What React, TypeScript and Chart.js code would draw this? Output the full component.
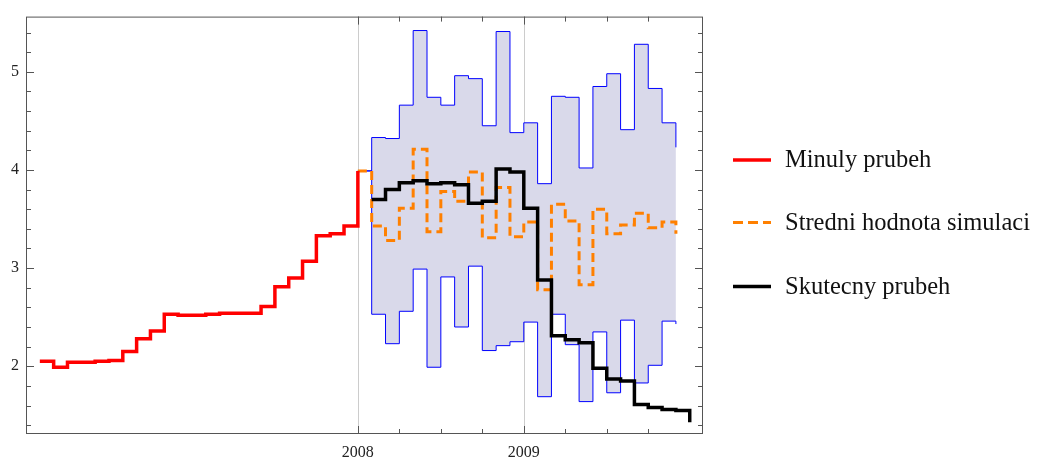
import React, { useEffect, useRef } from "react";
import { Chart, registerables } from "chart.js";

Chart.register(...registerables);

// ---- Data (monthly values, step plot) ----
const pastStart = { year: 2006, month: 2 };
const pastValues = [
  2.05, 1.99, 2.04, 2.04, 2.05, 2.06, 2.15, 2.28, 2.36, 2.53, 2.52, 2.52,
  2.53, 2.54, 2.54, 2.54, 2.61, 2.81, 2.9, 3.07, 3.33, 3.35, 3.43, 3.99,
];

const actualStart = { year: 2008, month: 2 };
const actualValues = [
  3.7, 3.8, 3.87, 3.89, 3.86, 3.87, 3.85, 3.66, 3.68, 4.01, 3.98,
  3.61, 2.88, 2.31, 2.27, 2.24, 1.98, 1.87, 1.85, 1.61, 1.58, 1.56, 1.55,
  1.43,
];

const simStart = { year: 2008, month: 1 };
const meanValues = [
  3.99, 3.43, 3.28, 3.61, 4.21, 3.37, 3.78, 3.68, 3.98, 3.31, 3.82, 3.32,
  3.47, 2.78, 3.65, 3.48, 2.83, 3.6, 3.35, 3.44, 3.56, 3.41, 3.47, 3.35,
];
const upperValues = [
  3.99, 4.33, 4.32, 4.66, 5.42, 4.74, 4.66, 4.96, 4.93, 4.45, 5.41, 4.38,
  4.48, 3.86, 4.75, 4.74, 4.02, 4.85, 4.98, 4.41, 5.28, 4.83, 4.48, 4.23,
];
const lowerValues = [
  3.99, 2.53, 2.23, 2.56, 2.99, 1.99, 2.91, 2.4, 3.02, 2.16, 2.21, 2.25,
  2.45, 1.69, 2.53, 2.22, 1.64, 2.35, 1.73, 2.47, 1.83, 2.01, 2.46, 2.43,
];

const xTickLabels = [2008, 2009];
const xMinorTicks = [2008.25, 2008.5, 2008.75, 2009.25, 2009.5, 2009.75];
const yTickLabels = [2, 3, 4, 5];
const yMinorTicks = [1.4, 1.6, 1.8, 2.2, 2.4, 2.6, 2.8, 3.2, 3.4, 3.6, 3.8, 4.2, 4.4, 4.6, 4.8, 5.2, 5.4];

const legendItems = [
  { label: "Minuly prubeh", color: "#ff0000", dash: [] as number[], width: 3.5 },
  { label: "Stredni hodnota simulaci", color: "#ff8000", dash: [10, 5], width: 3 },
  { label: "Skutecny prubeh", color: "#000000", dash: [] as number[], width: 3.5 },
];

const toPoints = (start: { year: number; month: number }, values: number[]) =>
  values.map((v, i) => ({ x: start.year + (start.month - 1 + i) / 12, y: v }));

const SERIF = '"Liberation Serif", "Times New Roman", serif';

const framePlugin = {
  id: "mmaFrame",
  beforeDraw(chart: any) {
    const { ctx, chartArea: a, scales } = chart;
    ctx.save();
    ctx.strokeStyle = "#cccccc";
    ctx.lineWidth = 1;
    xTickLabels.forEach((v) => {
      const px = Math.round(scales.x.getPixelForValue(v)) + 0.5;
      ctx.beginPath();
      ctx.moveTo(px, a.top);
      ctx.lineTo(px, a.bottom);
      ctx.stroke();
    });
    ctx.restore();
  },
  afterDatasetsDraw(chart: any) {
    const { ctx, chartArea: a, scales } = chart;
    ctx.save();
    ctx.strokeStyle = "#555555";
    ctx.lineWidth = 1;
    ctx.strokeRect(a.left + 0.5, a.top + 0.5, a.right - a.left - 1, a.bottom - a.top - 1);
    const major = 8;
    const minor = 5;
    const drawX = (v: number, len: number) => {
      const px = Math.round(scales.x.getPixelForValue(v)) + 0.5;
      ctx.beginPath();
      ctx.moveTo(px, a.bottom);
      ctx.lineTo(px, a.bottom - len);
      ctx.moveTo(px, a.top);
      ctx.lineTo(px, a.top + len);
      ctx.stroke();
    };
    const drawY = (v: number, len: number) => {
      const py = Math.round(scales.y.getPixelForValue(v)) + 0.5;
      ctx.beginPath();
      ctx.moveTo(a.left, py);
      ctx.lineTo(a.left + len, py);
      ctx.moveTo(a.right, py);
      ctx.lineTo(a.right - len, py);
      ctx.stroke();
    };
    xTickLabels.forEach((v) => drawX(v, major));
    xMinorTicks.forEach((v) => drawX(v, minor));
    yTickLabels.forEach((v) => drawY(v, major));
    yMinorTicks.forEach((v) => drawY(v, minor));
    ctx.restore();
  },
  afterDraw(chart: any) {
    const { ctx } = chart;
    ctx.save();
    const lineX0 = 733;
    const lineX1 = 771;
    const textX = 785;
    const baselines = [167, 229.5, 293.5];
    legendItems.forEach((item, i) => {
      const by = baselines[i];
      ctx.strokeStyle = item.color;
      ctx.lineWidth = item.width;
      ctx.setLineDash(item.dash);
      ctx.beginPath();
      ctx.moveTo(lineX0, by - 7);
      ctx.lineTo(lineX1, by - 7);
      ctx.stroke();
      ctx.setLineDash([]);
      ctx.fillStyle = "#111111";
      ctx.font = `24.5px ${SERIF}`;
      ctx.textBaseline = "alphabetic";
      ctx.textAlign = "left";
      ctx.fillText(item.label, textX, by);
    });
    ctx.restore();
  },
};

export default function App() {
  const canvasRef = useRef<HTMLCanvasElement | null>(null);

  useEffect(() => {
    if (!canvasRef.current) return;
    const chart = new Chart(canvasRef.current, {
      type: "line",
      data: {
        datasets: [
          {
            label: legendItems[0].label,
            data: toPoints(pastStart, pastValues),
            borderColor: "#ff0000",
            borderWidth: 3.5,
            stepped: "before",
            pointRadius: 0,
            fill: false,
          },
          {
            label: legendItems[2].label,
            data: toPoints(actualStart, actualValues),
            borderColor: "#000000",
            borderWidth: 3.5,
            stepped: "before",
            pointRadius: 0,
            fill: false,
          },
          {
            label: legendItems[1].label,
            data: toPoints(simStart, meanValues),
            borderColor: "#ff8000",
            borderWidth: 3,
            borderDash: [9, 5],
            stepped: "before",
            pointRadius: 0,
            fill: false,
          },
          {
            label: "upper",
            data: toPoints(simStart, upperValues),
            borderColor: "#0000ff",
            borderWidth: 1,
            stepped: "before",
            pointRadius: 0,
            fill: { target: "+1" },
            backgroundColor: "rgb(217,217,234)",
          },
          {
            label: "lower",
            data: toPoints(simStart, lowerValues),
            borderColor: "#0000ff",
            borderWidth: 1,
            stepped: "before",
            pointRadius: 0,
            fill: false,
          },
        ],
      },
      options: {
        animation: false,
        responsive: true,
        maintainAspectRatio: false,
        events: [],
        layout: { padding: { top: 16, right: 334, left: 0, bottom: 0 } },
        plugins: {
          legend: { display: false },
          tooltip: { enabled: false },
          filler: { drawTime: "beforeDatasetsDraw" },
        },
        scales: {
          x: {
            type: "linear",
            min: 2006.0,
            max: 2010.08,
            afterBuildTicks: (s: any) => {
              s.ticks = xTickLabels.map((v) => ({ value: v }));
            },
            afterFit: (s: any) => {
              s.height = 24;
            },
            grid: { display: false, drawTicks: false },
            border: { display: false },
            ticks: {
              autoSkip: false,
              maxRotation: 0,
              padding: 9,
              color: "#222222",
              font: { family: SERIF, size: 16 },
              callback: (v: any) => String(v),
            },
          },
          y: {
            type: "linear",
            min: 1.31,
            max: 5.562,
            afterBuildTicks: (s: any) => {
              s.ticks = yTickLabels.map((v) => ({ value: v }));
            },
            afterFit: (s: any) => {
              s.width = 26;
            },
            grid: { display: false, drawTicks: false },
            border: { display: false },
            ticks: {
              autoSkip: false,
              padding: 7,
              color: "#222222",
              font: { family: SERIF, size: 16 },
              callback: (v: any) => String(v),
            },
          },
        },
      },
      plugins: [framePlugin],
    } as any);
    return () => chart.destroy();
  }, []);

  return (
    <div
      style={{
        position: "fixed",
        left: 0,
        top: 0,
        width: 1037,
        height: 458,
        background: "#ffffff",
      }}
    >
      <canvas ref={canvasRef} />
    </div>
  );
}
